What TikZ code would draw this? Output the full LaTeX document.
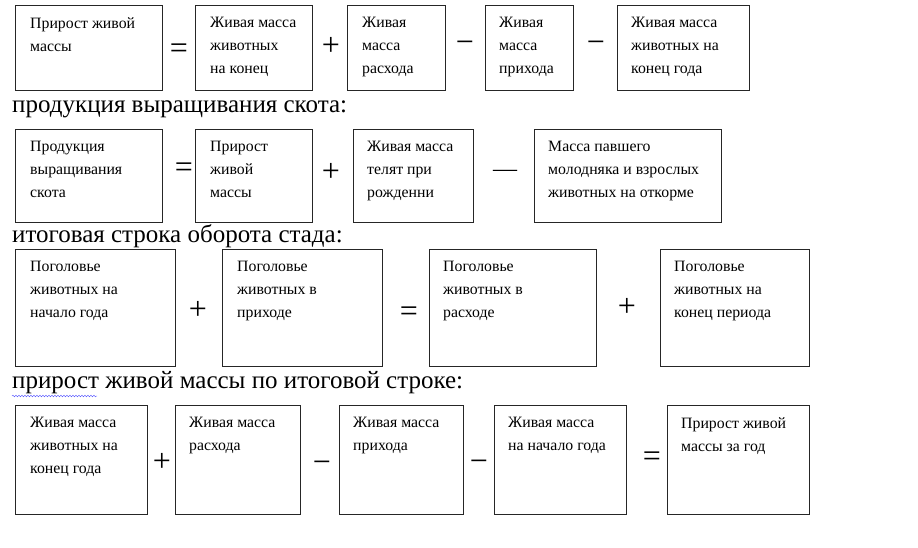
\documentclass[tikz,border=0pt]{standalone}
\usepackage{fontspec}
\setmainfont{Liberation Serif}
\usetikzlibrary{decorations.pathmorphing}
\tikzset{
  cell/.style={draw=black!85, line width=1.2pt, anchor=north west, inner sep=0pt},
  txt/.style={anchor=north west, align=left, inner sep=0pt, font=\rmfamily\fontsize{15.8}{23}\selectfont},
  head/.style={anchor=base west, inner sep=0pt, font=\fontsize{25}{30}\selectfont},
  op/.style={inner sep=0pt, font=\fontsize{32}{32}\selectfont}
}
\begin{document}
\begin{tikzpicture}[x=1pt,y=-1pt]
      \useasboundingbox (0,0) rectangle (918,547);
      % row 1
      \node[cell, minimum width=147, minimum height=85] (a1) at (15,5) {};
      \node[cell, minimum width=117, minimum height=85] (a2) at (195,5) {};
      \node[cell, minimum width=98, minimum height=85] (a3) at (347,5) {};
      \node[cell, minimum width=88, minimum height=85] (a4) at (485,5) {};
      \node[cell, minimum width=132, minimum height=85] (a5) at (617,5) {};
      \node[txt] (a1t) at (30,17) {Прирост живой\\массы};
      \node[txt] (a2t) at (210,17) {Живая масса\\животных\\на конец};
      \node[txt] (a3t) at (362,17) {Живая\\масса\\расхода};
      \node[txt] (a4t) at (499,17) {Живая\\масса\\прихода};
      \node[txt] (a5t) at (631,17) {Живая масса\\животных на\\конец года};
      \node[op] (a12) at (179,51) {=};
      \node[op] (a23) at (331,46) {+};
      \node[op] (a34) at (465,47) {−};
      \node[op] (a45) at (596,47) {−};
      % row 2
      \node[head] (h2) at (12,112) {продукция выращивания скота:};
      \node[cell, minimum width=147, minimum height=93] (b1) at (15,129) {};
      \node[cell, minimum width=117, minimum height=93] (b2) at (195,129) {};
      \node[cell, minimum width=120, minimum height=93] (b3) at (353,129) {};
      \node[cell, minimum width=187, minimum height=93] (b4) at (534,129) {};
      \node[txt] (b1t) at (30,141) {Продукция\\выращивания\\скота};
      \node[txt] (b2t) at (210,141) {Прирост\\живой\\массы};
      \node[txt] (b3t) at (367,141) {Живая масса\\телят при\\рожденни};
      \node[txt] (b4t) at (548,141) {Масса павшего\\молодняка и взрослых\\животных на откорме};
      \node[op] (b12) at (184,170) {=};
      \node[op] (b23) at (331,172) {+};
      \node[op, font=\fontsize{24}{24}\selectfont] (b34) at (505,173) {—};
      % row 3
      \node[head] (h3) at (12,242) {итоговая строка оборота стада:};
      \node[cell, minimum width=160, minimum height=117] (c1) at (15,249) {};
      \node[cell, minimum width=160, minimum height=117] (c2) at (222,249) {};
      \node[cell, minimum width=167, minimum height=117] (c3) at (429,249) {};
      \node[cell, minimum width=149, minimum height=117] (c4) at (660,249) {};
      \node[txt] (c1t) at (30,261) {Поголовье\\животных на\\начало года};
      \node[txt] (c2t) at (237,261) {Поголовье\\животных в\\приходе};
      \node[txt] (c3t) at (443,261) {Поголовье\\животных в\\расходе};
      \node[txt] (c4t) at (674,261) {Поголовье\\животных на\\конец периода};
      \node[op] (c12) at (198,310) {+};
      \node[op] (c23) at (409,314) {=};
      \node[op] (c34) at (627,307) {+};
      % row 4
      \node[head] (h4) at (12,388) {прирост живой массы по итоговой строке:};
      \draw[blue!70, decorate, decoration={snake, amplitude=0.8, segment length=3}] (12,396) -- (97,396);
      \node[cell, minimum width=132, minimum height=109] (d1) at (15,405) {};
      \node[cell, minimum width=125, minimum height=109] (d2) at (175,405) {};
      \node[cell, minimum width=124, minimum height=109] (d3) at (339,405) {};
      \node[cell, minimum width=132, minimum height=109] (d4) at (494,405) {};
      \node[cell, minimum width=142, minimum height=109] (d5) at (667,405) {};
      \node[txt] (d1t) at (30,417) {Живая масса\\животных на\\конец года};
      \node[txt] (d2t) at (189,417) {Живая масса\\расхода};
      \node[txt] (d3t) at (353,417) {Живая масса\\прихода};
      \node[txt] (d4t) at (508,417) {Живая масса\\на начало года};
      \node[txt] (d5t) at (681,417) {Прирост живой\\массы за год};
      \node[op] (d12) at (162,462) {+};
      \node[op] (d23) at (322,467) {−};
      \node[op] (d34) at (479,466) {−};
      \node[op] (d45) at (652,459) {=};
    \end{tikzpicture}
\end{document}
